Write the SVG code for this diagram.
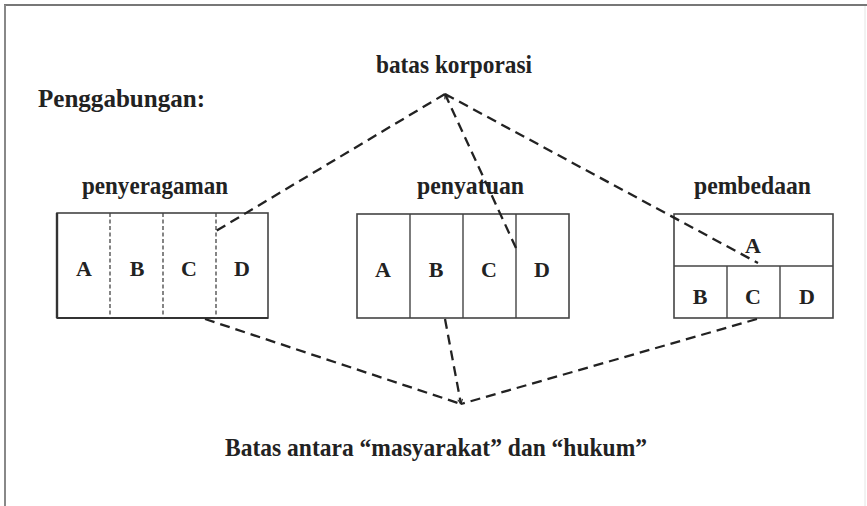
<svg xmlns="http://www.w3.org/2000/svg" width="867" height="506" viewBox="0 0 867 506">
  <style>
    .lbl { font-family: "Liberation Serif", "Times New Roman", serif; font-weight: bold; fill: #222; }
    .title { font-size: 25px; }
    .cell { font-size: 22px; text-anchor: middle; }
    .box { fill: #fff; stroke: #444; stroke-width: 1.6; }
    .div { stroke: #444; stroke-width: 1.4; fill: none; }
    .ddiv { stroke: #444; stroke-width: 1.3; stroke-dasharray: 4 2.5; fill: none; }
    .conn { stroke: #222; stroke-width: 2.3; stroke-dasharray: 10 6; fill: none; }
  </style>
  <defs>
    <marker id="tip" viewBox="0 0 10 10" refX="9" refY="5" markerWidth="6" markerHeight="6" orient="auto" markerUnits="userSpaceOnUse">
      <path d="M1,1 L9,5 L1,9" fill="none" stroke="#222" stroke-width="1.8"/>
    </marker>
  </defs>

  <rect width="867" height="506" fill="#fff"/>
  <!-- frame -->
  <g id="frame" fill="none">
    <line x1="4" y1="5" x2="867" y2="5" stroke="#777" stroke-width="2"/>
    <line x1="5" y1="5" x2="5" y2="506" stroke="#888" stroke-width="2"/>
    <line x1="865" y1="6" x2="865" y2="506" stroke="#e4e4e4" stroke-width="1"/>
  </g>

  <g id="heading">
    <text class="lbl title" x="38" y="107" textLength="167" lengthAdjust="spacingAndGlyphs">Penggabungan:</text>
  </g>

  <g id="corporate-boundary">
    <text class="lbl title" x="376" y="73" textLength="156" lengthAdjust="spacingAndGlyphs">batas korporasi</text>
  </g>

  <g id="society-law-boundary">
    <text class="lbl title" x="225" y="456" textLength="422" lengthAdjust="spacingAndGlyphs">Batas antara “masyarakat” dan “hukum”</text>
  </g>

  <!-- penyeragaman: four segments with dashed boundaries -->
  <g id="penyeragaman">
    <text class="lbl title" x="82" y="194" textLength="146" lengthAdjust="spacingAndGlyphs">penyeragaman</text>
    <rect class="box" x="57" y="213" width="211" height="105"/>
    <line x1="57" y1="213" x2="57" y2="318" stroke="#333" stroke-width="2.4"/>
    <line x1="57" y1="318" x2="268" y2="318" stroke="#333" stroke-width="2.2"/>
    <line class="ddiv" x1="110" y1="213" x2="110" y2="318"/>
    <line class="ddiv" x1="163" y1="213" x2="163" y2="318"/>
    <line class="ddiv" x1="216" y1="213" x2="216" y2="318"/>
    <text class="lbl cell" x="84" y="276">A</text>
    <text class="lbl cell" x="137" y="276">B</text>
    <text class="lbl cell" x="189" y="276">C</text>
    <text class="lbl cell" x="242" y="276">D</text>
  </g>

  <!-- penyatuan: four segments with solid boundaries -->
  <g id="penyatuan">
    <text class="lbl title" x="417" y="194" textLength="107" lengthAdjust="spacingAndGlyphs">penyatuan</text>
    <rect class="box" x="357" y="214" width="212" height="104"/>
    <line class="div" x1="410" y1="214" x2="410" y2="318"/>
    <line class="div" x1="463" y1="214" x2="463" y2="318"/>
    <line class="div" x1="516" y1="214" x2="516" y2="318"/>
    <text class="lbl cell" x="383" y="277">A</text>
    <text class="lbl cell" x="436" y="277">B</text>
    <text class="lbl cell" x="489" y="277">C</text>
    <text class="lbl cell" x="542" y="277">D</text>
  </g>

  <!-- pembedaan: one upper segment over three lower ones -->
  <g id="pembedaan">
    <text class="lbl title" x="694" y="194" textLength="117" lengthAdjust="spacingAndGlyphs">pembedaan</text>
    <rect class="box" x="674" y="214" width="159" height="104"/>
    <line class="div" x1="674" y1="266" x2="833" y2="266"/>
    <line class="div" x1="727" y1="266" x2="727" y2="318"/>
    <line class="div" x1="780" y1="266" x2="780" y2="318"/>
    <text class="lbl cell" x="753" y="253">A</text>
    <text class="lbl cell" x="700" y="304">B</text>
    <text class="lbl cell" x="753" y="304">C</text>
    <text class="lbl cell" x="807" y="304">D</text>
  </g>

  <g id="connectors">
    <!-- from batas korporasi -->
    <line class="conn" x1="445" y1="94" x2="216" y2="231"/>
    <line class="conn" x1="516" y1="248" x2="445" y2="94" marker-end="url(#tip)"/>
    <line class="conn" x1="445" y1="94" x2="758" y2="263"/>
    <!-- to batas antara masyarakat dan hukum -->
    <line class="conn" x1="205" y1="319" x2="461" y2="404"/>
    <line class="conn" x1="445" y1="319" x2="461" y2="404" marker-end="url(#tip)"/>
    <line class="conn" x1="757" y1="319" x2="461" y2="404"/>
  </g>
</svg>
